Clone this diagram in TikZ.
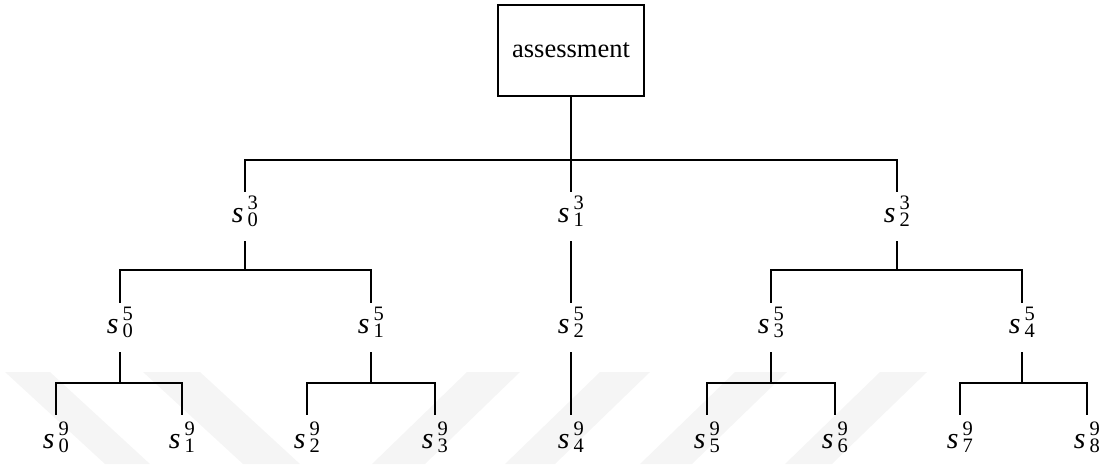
\documentclass[tikz,border=0pt]{standalone}
\usepackage{fontspec}
\setmainfont{Liberation Serif}
\newcommand\slab[2]{\llap{\fontsize{30}{34}\selectfont\itshape s\kern1.5pt}\rlap{\kern2.5pt\fontsize{20.5}{22}\selectfont\rlap{\raisebox{12.5pt}{#2}}\raisebox{-4.5pt}{#1}}}
\tikzset{
  conn/.style={line width=1.9pt},
  lab/.style={anchor=base, inner sep=0pt, text height=30pt, text depth=19pt},
  leaf/.style={anchor=base, inner sep=0pt, text height=33pt, text depth=0pt},
  topbox/.style={draw, line width=1.9pt, minimum width=146pt, minimum height=91pt, inner sep=0pt, font=\fontsize{26.5}{30}\selectfont},
  wm/.style={fill=black!4, draw=none}
}
\begin{document}
\begin{tikzpicture}[x=1pt, y=-1pt]
\useasboundingbox (0,0) rectangle (1100,464);
% faint watermark
\fill[wm] (5,372) -- (50,372) -- (150,464) -- (105,464) -- cycle;
\fill[wm] (143,372) -- (200,372) -- (300,464) -- (243,464) -- cycle;
\fill[wm] (467,372) -- (520,372) -- (425,464) -- (372,464) -- cycle;
\fill[wm] (600,372) -- (650,372) -- (555,464) -- (505,464) -- cycle;
\fill[wm] (735,372) -- (787,372) -- (692,464) -- (640,464) -- cycle;
\fill[wm] (880,372) -- (927,372) -- (832,464) -- (785,464) -- cycle;
% bar heights
\coordinate (y1) at (0,160);
\coordinate (y2) at (0,270);
\coordinate (y3) at (0,383);
% nodes
\node[topbox] (root) at (571,50.5) {assessment};
\node[lab] (a0) at (245,222) {\slab{0}{3}};
\node[lab] (a1) at (571,222) {\slab{1}{3}};
\node[lab] (a2) at (897,222) {\slab{2}{3}};
\node[lab] (b0) at (120,333) {\slab{0}{5}};
\node[lab] (b1) at (371,333) {\slab{1}{5}};
\node[lab] (b2) at (571,333) {\slab{2}{5}};
\node[lab] (b3) at (771,333) {\slab{3}{5}};
\node[lab] (b4) at (1022,333) {\slab{4}{5}};
\node[leaf] (c0) at (56,448) {\slab{0}{9}};
\node[leaf] (c1) at (182,448) {\slab{1}{9}};
\node[leaf] (c2) at (307,448) {\slab{2}{9}};
\node[leaf] (c3) at (435,448) {\slab{3}{9}};
\node[leaf] (c4) at (571,448) {\slab{4}{9}};
\node[leaf] (c5) at (707,448) {\slab{5}{9}};
\node[leaf] (c6) at (835,448) {\slab{6}{9}};
\node[leaf] (c7) at (960,448) {\slab{7}{9}};
\node[leaf] (c8) at (1087,448) {\slab{8}{9}};
% level 1
\draw[conn] (root.south) -- (a1.north);
\draw[conn] (a0.north) |- (a2.north |- y1) -- (a2.north);
% level 2
\draw[conn] (a0.south) -- (a0.south |- y2);
\draw[conn] (b0.north) |- (b1.north |- y2) -- (b1.north);
\draw[conn] (a1.south) -- (b2.north);
\draw[conn] (a2.south) -- (a2.south |- y2);
\draw[conn] (b3.north) |- (b4.north |- y2) -- (b4.north);
% level 3
\draw[conn] (b0.south) -- (b0.south |- y3);
\draw[conn] (c0.north) |- (c1.north |- y3) -- (c1.north);
\draw[conn] (b1.south) -- (b1.south |- y3);
\draw[conn] (c2.north) |- (c3.north |- y3) -- (c3.north);
\draw[conn] (b2.south) -- (c4.north);
\draw[conn] (b3.south) -- (b3.south |- y3);
\draw[conn] (c5.north) |- (c6.north |- y3) -- (c6.north);
\draw[conn] (b4.south) -- (b4.south |- y3);
\draw[conn] (c7.north) |- (c8.north |- y3) -- (c8.north);
\end{tikzpicture}
\end{document}
